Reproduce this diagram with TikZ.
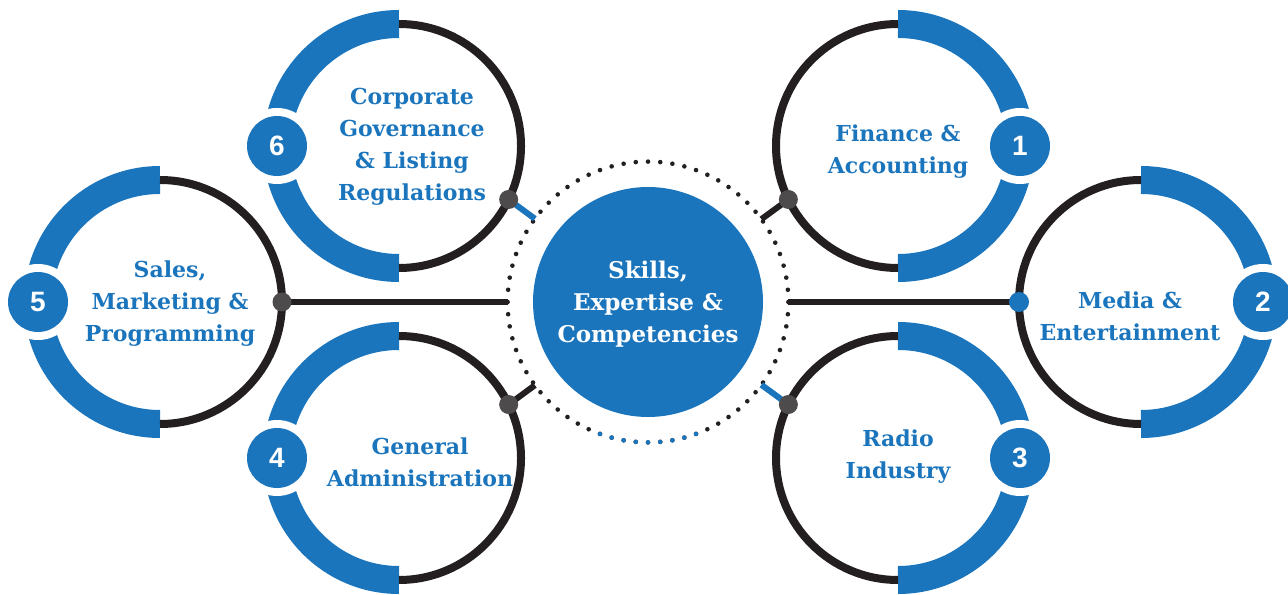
\documentclass[tikz,border=0pt]{standalone}
\usepackage{fontspec}
\setmainfont{DejaVu Serif}
\newfontfamily\numfont{Liberation Sans}
\definecolor{skillblue}{HTML}{1B75BC}
\definecolor{ringblack}{HTML}{231F20}
\definecolor{hubgrey}{HTML}{4D4B4C}

\begin{document}
\begin{tikzpicture}[x=0.5pt,y=0.5pt,
		bluearc/.style={skillblue,line width=14pt},
		blackarc/.style={ringblack,line width=4pt},
		badge/.style={circle,fill=skillblue,text=white,minimum size=30pt,inner sep=0pt,
			font=\numfont\bfseries\fontsize{14}{14}\selectfont},
		badgegap/.style={circle,fill=white,minimum size=38pt,inner sep=0pt},
		hub/.style={circle,fill=hubgrey,minimum size=9.5pt,inner sep=0pt},
		spoke/.style={ringblack,line width=3pt},
		ringtext/.style={text=skillblue,align=center,font=\bfseries\fontsize{11}{16}\selectfont}]
		\useasboundingbox (0,0) rectangle (1288,594);
		% rings: blue half outside, black half towards the middle
		\foreach \cx/\cy/\s in {399/448/90,160/292/90,399/136/90,898/448/-90,1141/292/-90,898/136/-90}{
			\draw[bluearc] (\cx,\cy) ++(\s:122) arc[start angle=\s,delta angle=180,radius=122];
			\draw[blackarc] (\cx,\cy) ++(\s+180:122) arc[start angle=\s+180,delta angle=180,radius=122];
		}
		\foreach \name/\cx/\cy/\a in {1/898/448/0,2/1141/292/0,3/898/136/0,4/399/136/180,5/160/292/180,6/399/448/180}{
			\path (\cx,\cy) ++(\a:122) node[badgegap] (gap\name) {} node[badge] (badge\name) {\name};
		}
		% middle
		\node[circle,fill=skillblue,minimum size=115pt,inner sep=0pt] (core) at (648,292) {};
		\node[circle,minimum size=140pt,inner sep=0pt] (dotring) at (648,292) {};
		\foreach \a in {0,5,...,355}{
			\fill[ringblack] (dotring.\a) circle (2.3);
		}
		\foreach \a in {250,255,...,290}{
			\fill[skillblue] (dotring.\a) circle (2.3);
		}
		% hubs on the rings
		\path (898,448) ++(206:122) coordinate (p1);
		\path (1141,292) ++(180:122) coordinate (p2);
		\path (898,136) ++(154:122) coordinate (p3);
		\path (399,136) ++(26:122) coordinate (p4);
		\path (160,292) ++(0:122) coordinate (p5);
		\path (399,448) ++(-26:122) coordinate (p6);
		\draw[spoke] (p1) -- (dotring);
		\draw[spoke] (p2) -- (dotring);
		\draw[spoke,skillblue] (p3) -- (dotring);
		\draw[spoke] (p4) -- (dotring);
		\draw[spoke] (p5) -- (dotring);
		\draw[spoke,skillblue] (p6) -- (dotring);
		\foreach \name in {1,3,4,5,6}{
			\node[hub] (hub\name) at (p\name) {};
		}
		\node[hub,fill=skillblue,minimum size=10pt] (hub2) at (p2) {};
		% texts
		\node[ringtext,text=white,font=\bfseries\fontsize{11.5}{16}\selectfont] (coretext) at (648,290) {Skills,\\Expertise \&\\Competencies};
		\node[ringtext] (text1) at (898,442) {Finance \&\\Accounting};
		\node[ringtext] (text2) at (1130,278) {Media \&\\Entertainment};
		\node[ringtext] (text3) at (898,137) {Radio\\Industry};
		\node[ringtext] (text4) at (420,132) {General\\Administration};
		\node[ringtext] (text5) at (170,290) {Sales,\\Marketing \&\\Programming};
		\node[ringtext] (text6) at (412,447) {Corporate\\Governance\\\& Listing\\Regulations};
	\end{tikzpicture}
\end{document}
